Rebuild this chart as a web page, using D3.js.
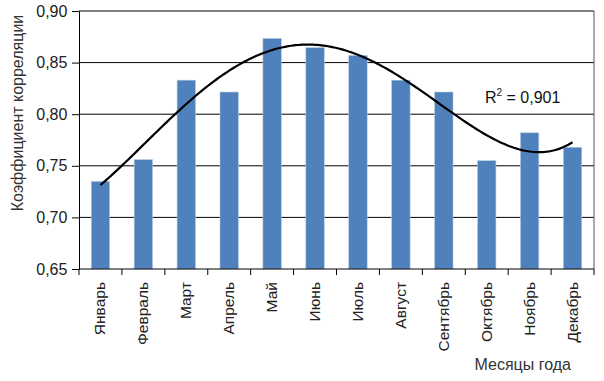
<!DOCTYPE html>
<html>
<head>
<meta charset="utf-8">
<script src="https://cdnjs.cloudflare.com/ajax/libs/d3/7.8.5/d3.min.js"></script>
<style>
  body { margin: 0; background: #fff; }
  svg text { font-family: "Liberation Sans", Arial, sans-serif; }
</style>
</head>
<body>
<div id="chart"></div>
<script>
'use strict';

const months = ['Январь', 'Февраль', 'Март', 'Апрель', 'Май', 'Июнь',
                'Июль', 'Август', 'Сентябрь', 'Октябрь', 'Ноябрь', 'Декабрь'];
const corr = [0.735, 0.756, 0.833, 0.8215, 0.8735, 0.8645,
              0.857, 0.833, 0.8215, 0.755, 0.782, 0.768];
const yTicks = [0.65, 0.70, 0.75, 0.80, 0.85, 0.90];
const trendDegree = 4;

const width = 604, height = 381;
const margin = { top: 11, right: 10, bottom: 112, left: 79 };
const w = width - margin.left - margin.right;
const h = height - margin.top - margin.bottom;

const svg = d3.select('#chart').append('svg')
    .attr('width', width)
    .attr('height', height);

const g = svg.append('g')
    .attr('transform', 'translate(' + margin.left + ',' + margin.top + ')');

const x = d3.scaleBand().domain(months).range([0, w]).paddingInner(0.57).paddingOuter(0.285);
const xb = d3.scaleBand().domain(months).range([0, w]);
const y = d3.scaleLinear().domain([0.65, 0.90]).range([h, 0]);

// least squares polynomial fit, same as the spreadsheet trendline
function polyFit(xs, ys, deg) {
    const n = deg + 1;
    const A = [];
    for (let i = 0; i < n; i++) {
        A.push([]);
        for (let j = 0; j <= n; j++) A[i].push(0);
    }
    xs.forEach((xv, k) => {
        for (let i = 0; i < n; i++) {
            for (let j = 0; j < n; j++) A[i][j] += Math.pow(xv, i + j);
            A[i][n] += Math.pow(xv, i) * ys[k];
        }
    });
    for (let c = 0; c < n; c++) {
        let p = c;
        for (let r = c + 1; r < n; r++) if (Math.abs(A[r][c]) > Math.abs(A[p][c])) p = r;
        [A[c], A[p]] = [A[p], A[c]];
        for (let r = 0; r < n; r++) {
            if (r === c) continue;
            const f = A[r][c] / A[c][c];
            for (let j = c; j <= n; j++) A[r][j] -= f * A[c][j];
        }
    }
    return A.map((row, i) => row[n] / row[i]);
}
const idx = months.map((m, i) => i + 1);
const evalPoly = (cf, t) => cf.reduce((s, c, i) => s + c * Math.pow(t, i), 0);

// grid
g.append('g')
    .selectAll('line')
    .data(yTicks.slice(1))
    .join('line')
    .attr('x1', 0).attr('x2', w)
    .attr('y1', d => y(d)).attr('y2', d => y(d))
    .attr('stroke', '#000').attr('stroke-width', 1);

// right border
g.append('line')
    .attr('x1', w).attr('x2', w).attr('y1', 0).attr('y2', h)
    .attr('stroke', '#555');

// bars
g.selectAll('.bar')
    .data(corr)
    .join('rect')
    .attr('class', 'bar')
    .attr('x', (d, i) => x(months[i]))
    .attr('width', x.bandwidth())
    .attr('y', d => y(d))
    .attr('height', d => h - y(d))
    .attr('fill', '#4f81bd')
    .attr('stroke', '#b9cde5')
    .attr('stroke-width', 0.6);

// trend
const coef = polyFit(idx, corr, trendDegree);
const pts = d3.range(1, 12.01, 0.05).map(t => [t, evalPoly(coef, t)]);
const xt = d3.scaleLinear().domain([1, 12])
    .range([xb(months[0]) + xb.bandwidth() / 2, xb(months[11]) + xb.bandwidth() / 2]);
g.append('path')
    .datum(pts)
    .attr('fill', 'none')
    .attr('stroke', '#000')
    .attr('stroke-width', 2.2)
    .attr('d', d3.line().x(d => xt(d[0])).y(d => y(d[1])));

// axes
const yAxis = g.append('g')
    .call(d3.axisLeft(y).tickValues(yTicks).tickSize(7).tickSizeOuter(0)
        .tickFormat(d => d3.format('.2f')(d).replace('.', ',')));
yAxis.select('.domain').attr('stroke', '#000');
yAxis.selectAll('text').attr('font-size', 16).attr('fill', '#222').attr('dx', '-0.1em');

const xAxis = g.append('g')
    .attr('transform', 'translate(0,' + h + ')');
xAxis.append('line').attr('x1', 0).attr('x2', w).attr('stroke', '#000');
xAxis.selectAll('.tk')
    .data(d3.range(13))
    .join('line')
    .attr('x1', i => i * xb.step()).attr('x2', i => i * xb.step())
    .attr('y1', 0).attr('y2', 6)
    .attr('stroke', '#000');
xAxis.selectAll('.lbl')
    .data(months)
    .join('text')
    .attr('transform', d => 'translate(' + (xb(d) + xb.bandwidth() / 2 + 5) + ',13) rotate(-90)')
    .attr('text-anchor', 'end')
    .attr('font-size', 15.5)
    .attr('fill', '#222')
    .text(d => d);

// titles
svg.append('text')
    .attr('transform', 'translate(23,113) rotate(-90)')
    .attr('text-anchor', 'middle')
    .attr('font-size', 16)
    .attr('fill', '#333')
    .text('Коэффициент корреляции');

svg.append('text')
    .attr('x', 571).attr('y', 370)
    .attr('text-anchor', 'end')
    .attr('font-size', 16)
    .attr('fill', '#333')
    .text('Месяцы года');

const r2 = svg.append('text')
    .attr('x', 485).attr('y', 103)
    .attr('font-size', 16)
    .attr('fill', '#111');
r2.append('tspan').text('R');
r2.append('tspan').attr('dy', -7).attr('font-size', 10).text('2');
r2.append('tspan').attr('dy', 7).text(' = 0,901');
</script>
</body>
</html>
